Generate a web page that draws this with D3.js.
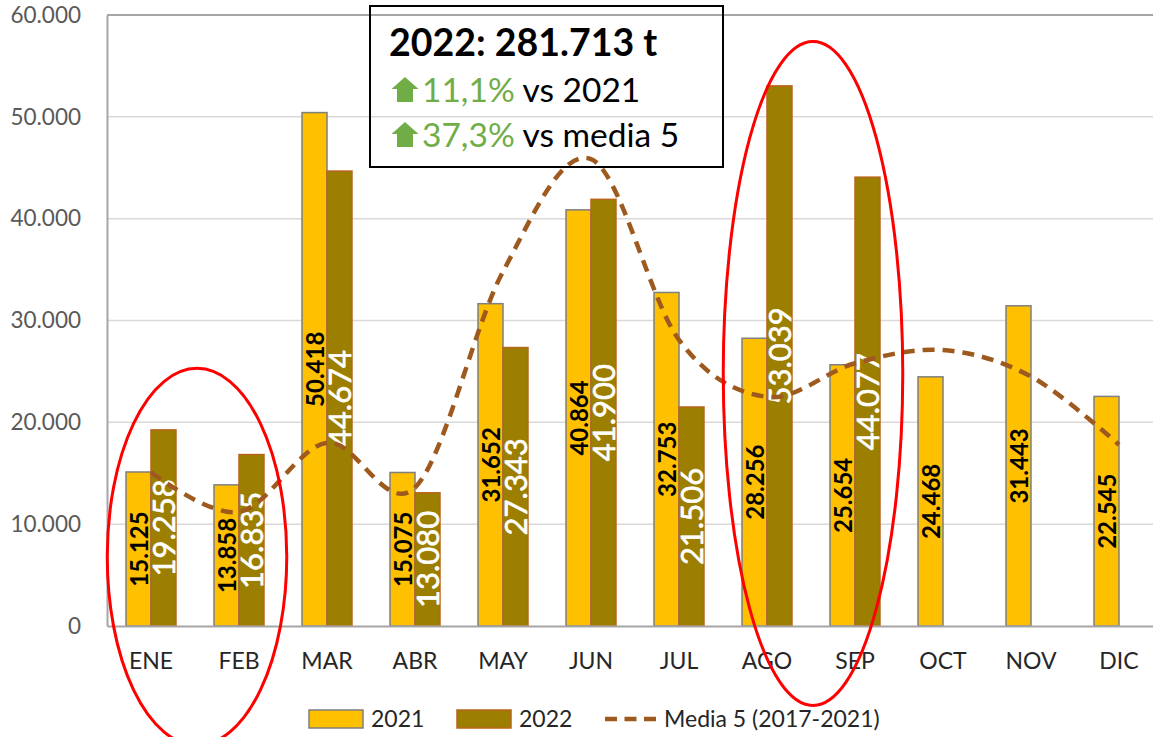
<!DOCTYPE html>
<html>
<head>
<meta charset="utf-8">
<script src="https://cdn.jsdelivr.net/npm/d3@7/dist/d3.min.js"></script>
<style>
  html, body { margin: 0; padding: 0; background: #fff; }
  svg { display: block; font-family: Lato, "Open Sans", sans-serif; }
</style>
</head>
<body>
<svg id="chart" width="1153" height="737"></svg>
<script>
// ---- data ----
const months = ["ENE","FEB","MAR","ABR","MAY","JUN","JUL","AGO","SEP","OCT","NOV","DIC"];
const values2021 = [15125, 13858, 50418, 15075, 31652, 40864, 32753, 28256, 25654, 24468, 31443, 22545];
const values2022 = [19258, 16835, 44674, 13080, 27343, 41900, 21506, 53039, 44077, null, null, null];
const media5 = [15100, 11200, 18000, 13600, 34800, 45850, 28100, 22500, 25800, 27100, 24500, 17800];
const yTicks = [0, 10000, 20000, 30000, 40000, 50000, 60000];
const seriesNames = ["2021", "2022"];
const legendLabels = ["2021", "2022", "Media 5 (2017-2021)"];
const summaryTitle = "2022: 281.713 t";
const summaryLines = [["11,1%", " vs 2021"], ["37,3%", " vs media 5"]];
const highlights = [
  { from: "ENE", to: "FEB", top: 25300, bottom: -11700 },
  { from: "AGO", to: "SEP", top: 57400, bottom: -7800 }
];

// ---- setup ----
const svg = d3.select("#chart");
const locale = d3.formatLocale({ decimal: ",", thousands: ".", grouping: [3], currency: ["", "€"] });
const fmt = locale.format(",");

const plot = { left: 107, right: 1163, top: 15, bottom: 626 };
const x = d3.scaleBand().domain(months).range([plot.left, plot.right]).paddingInner(0.432).paddingOuter(0.216);
const x1 = d3.scaleBand().domain(seriesNames).range([0, x.bandwidth()]);
const y = d3.scaleLinear().domain([0, 60000]).range([plot.bottom, plot.top]);
const step = x.step();
const cx = m => x(m) + x.bandwidth() / 2;

const colors = { "2021": "#FFC000", "2022": "#9C7F00" };
const strokes = { "2021": "#7F7F7F", "2022": "#B8651B" };

// gridlines
svg.append("g").selectAll("line").data(yTicks.filter(d => d > 0)).join("line")
  .attr("x1", plot.left).attr("x2", plot.right)
  .attr("y1", d => y(d)).attr("y2", d => y(d))
  .attr("stroke", d => d === 60000 ? "#A6A6A6" : "#D9D9D9")
  .attr("stroke-width", d => d === 60000 ? 2 : 1.5);

// y axis
const yAxis = svg.append("g").attr("transform", `translate(${plot.left},0)`)
  .call(d3.axisLeft(y).tickValues(yTicks).tickFormat(fmt).tickSize(0).tickPadding(26));
yAxis.select(".domain").attr("stroke", "#A6A6A6").attr("stroke-width", 2);
yAxis.selectAll("text").attr("font-size", 22.5).attr("fill", "#595959").attr("font-family", "Lato");

// bars
const rows = months.map((m, i) => ({ m, vals: [
  { s: "2021", v: values2021[i] }, { s: "2022", v: values2022[i] } ].filter(d => d.v != null) }));
const groups = svg.append("g").selectAll("g").data(rows).join("g")
  .attr("transform", d => `translate(${x(d.m)},0)`);
groups.selectAll("rect").data(d => d.vals).join("rect")
  .attr("x", d => x1(d.s)).attr("width", x1.bandwidth())
  .attr("y", d => y(d.v)).attr("height", d => y(0) - y(d.v))
  .attr("fill", d => colors[d.s]).attr("stroke", d => strokes[d.s]).attr("stroke-width", 1.5);

// x axis
const xAxis = svg.append("g").attr("transform", `translate(0,${plot.bottom})`)
  .call(d3.axisBottom(x).tickSize(0).tickPadding(27));
xAxis.select(".domain").attr("stroke", "#A6A6A6").attr("stroke-width", 2);
xAxis.selectAll("text").attr("font-size", 23).attr("fill", "#262626").attr("font-family", "Lato");

// media line
const line = d3.line().x((d, i) => cx(months[i])).y(d => y(d)).curve(d3.curveCardinal.tension(0));
svg.append("path").datum(media5).attr("d", line)
  .attr("fill", "none").attr("stroke", "#9E5A1E").attr("stroke-width", 4.5)
  .attr("stroke-dasharray", "12,8");

// bar labels
groups.selectAll("text").data(d => d.vals).join("text")
  .attr("transform", d => `translate(${x1(d.s) + x1.bandwidth() / 2},${(y(0) + y(d.v)) / 2}) rotate(-90)`)
  .attr("text-anchor", "middle").attr("dominant-baseline", "central")
  .attr("font-size", d => d.s === "2021" ? 24 : 31)
  .attr("font-weight", d => d.s === "2021" ? 700 : 400)
  .attr("fill", d => d.s === "2021" ? "#000" : "#fff")
  .attr("stroke", d => d.s === "2021" ? "none" : "#fff")
  .attr("stroke-width", 0.6)
  .text(d => fmt(d.v));

// summary box (transparent)
const box = svg.append("g");
box.append("rect").attr("x", 370).attr("y", 6).attr("width", 353).attr("height", 161)
  .attr("fill", "none").attr("stroke", "#000").attr("stroke-width", 2);
box.append("text").attr("x", 389).attr("y", 56).attr("font-size", 37.5).attr("font-weight", 700)
  .attr("fill", "#000").text(summaryTitle);
const arrow = "M0,-25 L13.5,-13 L8,-13 L8,0 L-8,0 L-8,-13 L-13.5,-13 Z";
summaryLines.forEach((ln, i) => {
  const by = 102 + i * 45;
  box.append("path").attr("d", arrow).attr("transform", `translate(405,${by})`).attr("fill", "#70AD47");
  const t = box.append("text").attr("x", 422).attr("y", by).attr("font-size", 33.5);
  t.append("tspan").attr("fill", "#70AD47").text(ln[0]);
  t.append("tspan").attr("fill", "#000").text(ln[1]);
});

// highlight ellipses
svg.append("g").selectAll("ellipse").data(highlights).join("ellipse")
  .attr("cx", d => (cx(d.from) + cx(d.to)) / 2 + 2)
  .attr("cy", d => (y(d.top) + y(d.bottom)) / 2)
  .attr("rx", step * 1.02)
  .attr("ry", d => (y(d.bottom) - y(d.top)) / 2)
  .attr("fill", "none").attr("stroke", "#FF0000").attr("stroke-width", 3);

// legend
const lg = svg.append("g").attr("font-size", 23).attr("fill", "#262626");
[["2021", 309], ["2022", 457]].forEach(([s, lx]) => {
  lg.append("rect").attr("x", lx).attr("y", 710).attr("width", 54).attr("height", 18)
    .attr("fill", colors[s]).attr("stroke", strokes[s]).attr("stroke-width", 1.5);
  lg.append("text").attr("x", lx + 62).attr("y", 727).text(legendLabels[seriesNames.indexOf(s)]);
});
lg.append("line").attr("x1", 605).attr("x2", 656).attr("y1", 719).attr("y2", 719)
  .attr("stroke", "#9E5A1E").attr("stroke-width", 4.5).attr("stroke-dasharray", "12,7.5");
lg.append("text").attr("x", 664).attr("y", 727).text(legendLabels[2]);
</script>
</body>
</html>
